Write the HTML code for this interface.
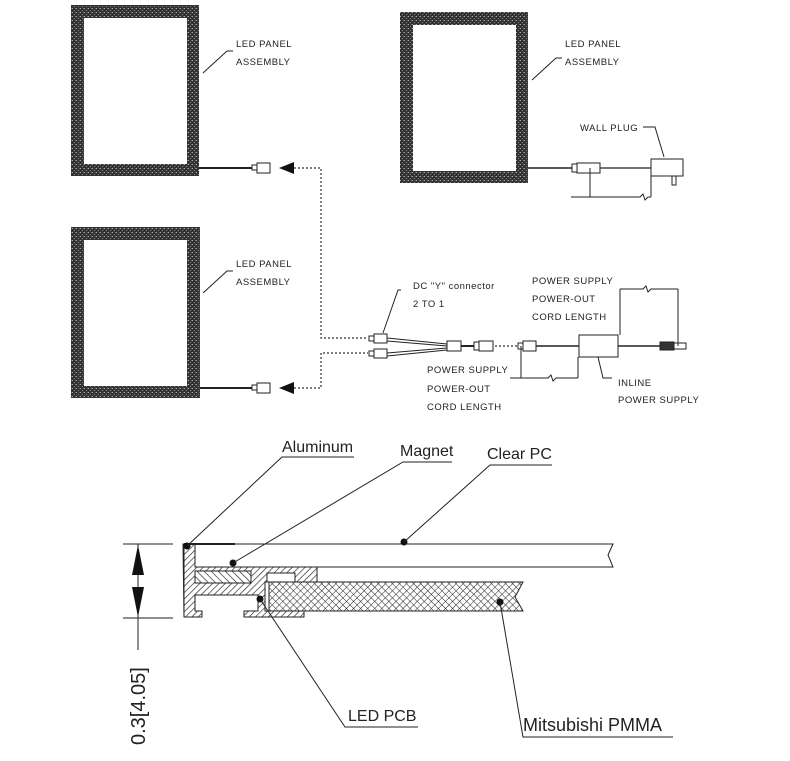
<!DOCTYPE html>
<html><head><meta charset="utf-8"><style>
html,body{margin:0;padding:0;background:#fff;}
svg{display:block;}
text{font-family:"Liberation Sans",Arial,sans-serif;fill:#222;}
.s{font-size:9.5px;letter-spacing:0.5px;}
.l{font-size:16px;}
</style></head><body>
<svg width="790" height="761" viewBox="0 0 790 761" xmlns="http://www.w3.org/2000/svg">
<defs>
<pattern id="tex" width="4" height="4" patternUnits="userSpaceOnUse">
<rect width="4" height="4" fill="#333"/><rect x="0" y="0" width="1" height="1" fill="#aaa"/><rect x="2" y="2" width="1" height="1" fill="#888"/><rect x="3" y="0" width="1" height="1" fill="#666"/>
</pattern>
<pattern id="hat" width="4.5" height="4.5" patternUnits="userSpaceOnUse" patternTransform="rotate(45)">
<rect width="4.5" height="4.5" fill="#fff"/><line x1="0" y1="0" x2="0" y2="4.5" stroke="#222" stroke-width="1.3"/>
</pattern>
<pattern id="hat2" width="5" height="5" patternUnits="userSpaceOnUse" patternTransform="rotate(-45)">
<rect width="5" height="5" fill="#fff"/><line x1="0" y1="0" x2="0" y2="5" stroke="#222" stroke-width="1.3"/>
</pattern>
<pattern id="xh" width="5" height="5" patternUnits="userSpaceOnUse" patternTransform="rotate(45)">
<rect width="5" height="5" fill="#fff"/><line x1="0" y1="0" x2="0" y2="5" stroke="#222" stroke-width="1"/><line x1="0" y1="0" x2="5" y2="0" stroke="#222" stroke-width="1"/>
</pattern>
</defs>

<rect x="71" y="5" width="128" height="171" fill="url(#tex)"/><rect x="84" y="18" width="103" height="146" fill="#fff"/>
<rect x="400" y="12" width="128" height="171" fill="url(#tex)"/><rect x="413" y="25" width="103" height="146" fill="#fff"/>
<rect x="71" y="227" width="129" height="171" fill="url(#tex)"/><rect x="84" y="240" width="103" height="146" fill="#fff"/>
<g stroke="#222" fill="none" stroke-width="1">
<polyline points="203,73 227,51 233,51"/>
<polyline points="532,80 556,58 562,58"/>
<polyline points="203,293 227,271 233,271"/>
</g>
<text class="s" x="236" y="47">LED PANEL</text><text class="s" x="236" y="65">ASSEMBLY</text>
<text class="s" x="565" y="47">LED PANEL</text><text class="s" x="565" y="65">ASSEMBLY</text>
<text class="s" x="236" y="267">LED PANEL</text><text class="s" x="236" y="285">ASSEMBLY</text>

<g stroke="#222" fill="#fff" stroke-width="1">
<line x1="199" y1="168" x2="252" y2="168" stroke-width="2"/>
<rect x="252" y="165" width="5" height="5"/><rect x="257" y="163" width="13" height="10"/>
<line x1="200" y1="388" x2="252" y2="388" stroke-width="2"/>
<rect x="252" y="385" width="5" height="5"/><rect x="257" y="383" width="13" height="10"/>
</g>
<polygon points="279,168 294,162 294,174" fill="#111"/>
<polygon points="279,388 294,382 294,394" fill="#111"/>
<g stroke="#333" stroke-dasharray="2,2" fill="none" stroke-width="1.2">
<polyline points="294,168 321,168 321,338 368,338"/>
<polyline points="294,388 321,388 321,353 368,353"/>
<line x1="495" y1="346" x2="518" y2="346"/>
</g>

<g stroke="#222" fill="#fff" stroke-width="1">
<rect x="369" y="336" width="5" height="5"/><rect x="374" y="334" width="13" height="9"/>
<rect x="369" y="351" width="5" height="5"/><rect x="374" y="349" width="13" height="9"/>
<polyline points="387,338 447,344" fill="none"/><polyline points="387,341 447,346" fill="none"/>
<polyline points="387,353 447,348" fill="none"/><polyline points="387,356 447,350" fill="none"/>
<rect x="447" y="341" width="14" height="10"/>
<line x1="461" y1="346" x2="474" y2="346" stroke-width="2"/>
<rect x="474" y="342" width="5" height="8"/><rect x="479" y="341" width="14" height="10"/>
<rect x="518" y="343" width="5" height="6"/><rect x="523" y="341" width="13" height="10"/>
<line x1="536" y1="346" x2="579" y2="346" stroke-width="1.6"/>
<rect x="579" y="335" width="39" height="22"/>
<line x1="618" y1="346" x2="660" y2="346" stroke-width="1.6"/>
<rect x="660" y="342" width="14" height="8" fill="#333"/><rect x="674" y="343" width="12" height="6"/>
<polyline points="401,290 398,290 383,333" fill="none"/>
</g>
<g stroke="#222" stroke-width="1" fill="none">
<line x1="620" y1="289" x2="620" y2="335"/><line x1="678" y1="289" x2="678" y2="346"/>
<polyline points="620,289 643,289 646,286 648,292 651,289 678,289"/>
<line x1="521" y1="346" x2="521" y2="378"/><line x1="578" y1="357" x2="578" y2="378"/>
<polyline points="510,378 548,378 551,375 553,381 556,378 578,378"/>
<polyline points="598,357 603,378 612,378"/>
</g>
<text class="s" x="413" y="289">DC "Y" connector</text><text class="s" x="413" y="307">2 TO 1</text>
<text class="s" x="532" y="284">POWER SUPPLY</text><text class="s" x="532" y="302">POWER-OUT</text><text class="s" x="532" y="320">CORD LENGTH</text>
<text class="s" x="427" y="373">POWER SUPPLY</text><text class="s" x="427" y="392">POWER-OUT</text><text class="s" x="427" y="410">CORD LENGTH</text>
<text class="s" x="618" y="386">INLINE</text><text class="s" x="618" y="403">POWER SUPPLY</text>

<g stroke="#222" fill="#fff" stroke-width="1">
<line x1="528" y1="168" x2="572" y2="168" stroke-width="1.6"/>
<rect x="572" y="164" width="5" height="8"/><rect x="577" y="163" width="23" height="10"/>
<line x1="600" y1="168" x2="651" y2="168" stroke-width="1.3"/>
<rect x="651" y="159" width="32" height="17"/><rect x="672" y="176" width="4" height="9"/>
<line x1="590" y1="168" x2="590" y2="197" fill="none"/><line x1="651" y1="176" x2="651" y2="197"/>
<polyline points="571,197 640,197 643,194 645,200 648,197 651,197" fill="none"/>
<polyline points="643,127 655,127 664,157" fill="none"/>
</g>
<text class="s" x="580" y="131">WALL PLUG</text>

<g stroke="#222" stroke-width="1">
<polygon points="183,544 613,544 608,555 613,567 195,567 195,617 184,617" fill="#fff"/>
<path d="M184,544 L195,544 L195,567 L317,567 L317,582 L265,582 L265,611 L304,611 L304,617 L244,617 L244,611 L258,611 L258,595 L195,595 L195,611 L202,611 L202,617 L184,617 Z" fill="url(#hat)"/>
<rect x="195" y="571" width="56" height="12" fill="url(#hat2)"/>
<rect x="267" y="573" width="28" height="9" fill="#fff"/>
<polygon points="269,582 523,582 515,597 523,611 269,611" fill="url(#xh)"/>
<line x1="184" y1="544" x2="235" y2="544" stroke-width="2"/>
</g>
<g fill="#111">
<circle cx="187" cy="546" r="3.5"/><circle cx="233" cy="563" r="3.5"/><circle cx="404" cy="542" r="3.5"/>
<circle cx="260" cy="599" r="3.5"/><circle cx="500" cy="602" r="3.5"/>
</g>
<g stroke="#222" stroke-width="1" fill="none">
<polyline points="187,546 282,457 354,457"/>
<polyline points="233,563 403,462 452,462"/>
<polyline points="404,542 490,465 552,465"/>
<polyline points="260,599 345,727 418,727"/>
<polyline points="500,602 523,737 673,737"/>
<line x1="123" y1="544" x2="173" y2="544"/><line x1="123" y1="618" x2="173" y2="618"/>
<line x1="138" y1="544" x2="138" y2="650"/>
</g>
<polygon points="138,545 132,575 144,575" fill="#111"/>
<polygon points="138,617 132,587 144,587" fill="#111"/>
<text class="l" x="282" y="452">Aluminum</text>
<text class="l" x="400" y="456">Magnet</text>
<text class="l" x="487" y="459">Clear PC</text>
<text class="l" x="348" y="721">LED PCB</text>
<text class="l" x="523" y="731" style="font-size:18px">Mitsubishi PMMA</text>
<text x="0" y="0" style="font-size:20px" transform="translate(145,745) rotate(-90)">0.3[4.05]</text>
</svg>
</body></html>
